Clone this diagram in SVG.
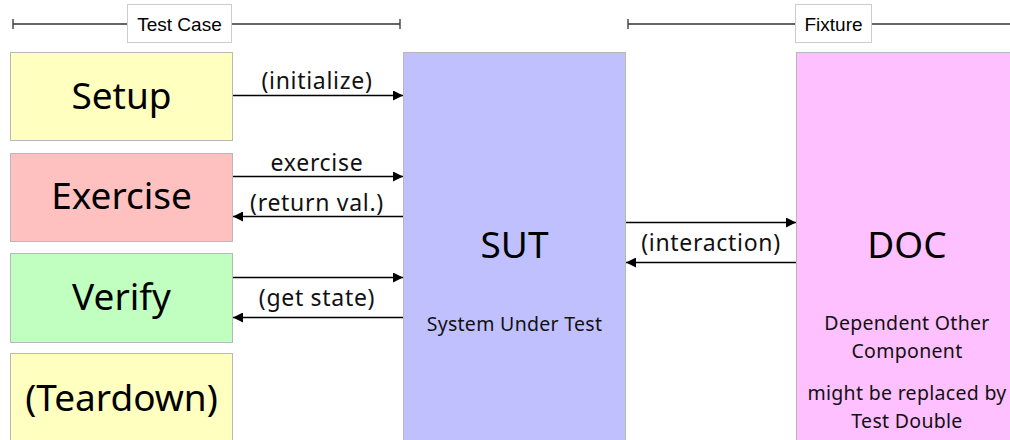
<svg xmlns="http://www.w3.org/2000/svg" width="1010" height="440" viewBox="0 0 1010 440">
  <defs>
    <marker id="arrow" viewBox="0 0 10 10" refX="10" refY="5" markerWidth="14" markerHeight="10" markerUnits="userSpaceOnUse" orient="auto">
      <path d="M0,0 L10,5 L0,10 z" fill="#000"/>
    </marker>
    <style>
      .box { stroke: #b8b8b8; stroke-width: 1; }
      .big { font-family: "Noto Sans", Lato, sans-serif; font-size: 37px; fill: #000; text-anchor: middle; }
      .small { font-family: "Noto Sans", Lato, sans-serif; font-size: 19.5px; letter-spacing: 0.3px; fill: #111; text-anchor: middle; }
      .lbl { font-family: "Noto Sans", Lato, sans-serif; font-size: 23px; letter-spacing: 0.7px; fill: #111; text-anchor: middle; }
      .hdr { font-family: "Liberation Sans", Arial, sans-serif; font-size: 19px; fill: #000; text-anchor: middle; }
      .brk { stroke: #333; stroke-width: 1.3; fill: none; }
      .tag { fill: #fff; stroke: #ccc; stroke-width: 1; }
      .conn { stroke: #000; stroke-width: 1.3; fill: none; marker-end: url(#arrow); }
    </style>
  </defs>

  <rect width="1010" height="440" fill="#fff"/>

  <!-- header brackets -->
  <g id="test-case-bracket">
    <path class="brk" d="M13,24 H400 M13,19 V29 M400,19 V29"/>
    <rect class="tag" x="127.5" y="4.5" width="104" height="38"/>
    <text class="hdr" x="179.5" y="30.5">Test Case</text>
  </g>
  <g id="fixture-bracket">
    <path class="brk" d="M628,24 H1010 M628,19 V29"/>
    <rect class="tag" x="795.5" y="4.5" width="76" height="38"/>
    <text class="hdr" x="833.5" y="30.5">Fixture</text>
  </g>

  <!-- phases -->
  <g id="setup">
    <rect class="box" x="10.5" y="52.5" width="222" height="88" fill="#ffffc0"/>
    <text class="big" x="121.5" y="109">Setup</text>
  </g>
  <g id="exercise">
    <rect class="box" x="10.5" y="153.5" width="222" height="88" fill="#ffc0c0"/>
    <text class="big" x="121.5" y="209">Exercise</text>
  </g>
  <g id="verify">
    <rect class="box" x="10.5" y="253.5" width="222" height="89" fill="#c0ffc0"/>
    <text class="big" x="121.5" y="310">Verify</text>
  </g>
  <g id="teardown">
    <rect class="box" x="10.5" y="353.5" width="222" height="92" fill="#ffffc0"/>
    <text class="big" x="121.5" y="411">(Teardown)</text>
  </g>

  <!-- system under test -->
  <g id="sut">
    <rect class="box" x="403.5" y="52.5" width="222" height="393" fill="#c0c0ff"/>
    <text class="big" x="514.5" y="258">SUT</text>
    <text class="small" x="514.5" y="331">System Under Test</text>
  </g>

  <!-- dependent other component -->
  <g id="doc">
    <rect class="box" x="796.5" y="52.5" width="220" height="393" fill="#ffc0ff"/>
    <text class="big" x="907" y="258">DOC</text>
    <text class="small" x="907" y="330">Dependent Other</text>
    <text class="small" x="907" y="358">Component</text>
    <text class="small" x="907" y="400">might be replaced by</text>
    <text class="small" x="907" y="428">Test Double</text>
  </g>

  <!-- connectors -->
  <g id="connectors">
    <line class="conn" x1="233" y1="95.5" x2="403" y2="95.5"/>
    <text class="lbl" x="317" y="89">(initialize)</text>

    <line class="conn" x1="233" y1="176.5" x2="403" y2="176.5"/>
    <text class="lbl" x="317" y="171">exercise</text>

    <line class="conn" x1="403" y1="216.5" x2="233" y2="216.5"/>
    <text class="lbl" x="317" y="211">(return val.)</text>

    <line class="conn" x1="233" y1="277.5" x2="403" y2="277.5"/>

    <line class="conn" x1="403" y1="317.5" x2="233" y2="317.5"/>
    <text class="lbl" x="317" y="306">(get state)</text>

    <line class="conn" x1="626" y1="222.5" x2="796" y2="222.5"/>
    <line class="conn" x1="796" y1="262.5" x2="626" y2="262.5"/>
    <text class="lbl" x="711" y="251">(interaction)</text>
  </g>
</svg>
